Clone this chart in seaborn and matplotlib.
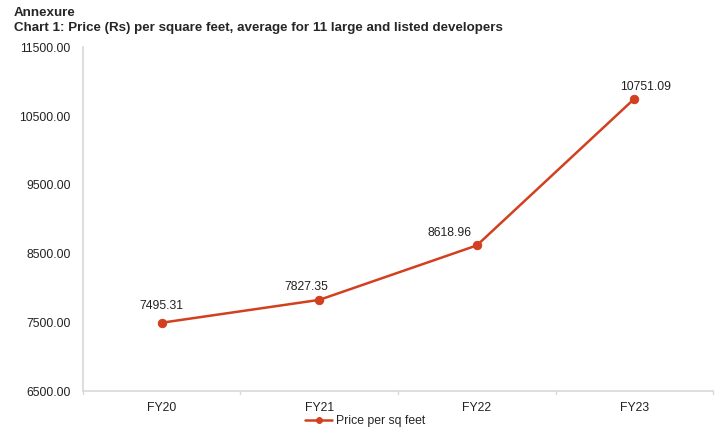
import matplotlib
matplotlib.use("Agg")
import matplotlib.pyplot as plt
import seaborn as sns
import pandas as pd
import numpy as np

categories = ["FY20", "FY21", "FY22", "FY23"]
prices = [7495.31, 7827.35, 8618.96, 10751.09]
yticks = [6500, 7500, 8500, 9500, 10500, 11500]
series_name = "Price per sq feet"

sns.set_theme(style="white")
plt.rcParams['font.family'] = ['Liberation Sans', 'DejaVu Sans']

color = "#d2401f"
df = pd.DataFrame({"pos": np.arange(len(categories)), "price": prices, "series": series_name})

fig = plt.figure(figsize=(7.27, 4.33), dpi=100)
ax = fig.add_axes([0.114, 0.0965, 0.867, 0.7945])
sns.lineplot(data=df, x="pos", y="price", hue="series", palette=[color], marker="o",
             markersize=6, markeredgecolor=color, linewidth=1.8, ax=ax)

ax.set_xlim(-0.5, len(categories) - 0.5)
ax.set_ylim(6500, 11500)
ax.set_yticks(yticks)
ax.set_yticklabels([f"{v:.2f}" for v in yticks], fontsize=8.8, color="#222222")
ax.set_xticks(range(len(categories)))
ax.set_xticklabels(categories, fontsize=8.8, color="#222222")
ax.tick_params(axis='x', length=0, pad=8)
ax.tick_params(axis='y', length=0, pad=9)
for b in np.arange(-0.5, len(categories) + 0.5, 1):
    ax.plot([b, b], [6500, 6500 - 40], color="#d9d9d9", lw=1, clip_on=False)
ax.set_xlabel("")
ax.set_ylabel("")
for s in ["top", "right"]:
    ax.spines[s].set_visible(False)
ax.spines["left"].set_color("#d9d9d9")
ax.spines["bottom"].set_color("#d9d9d9")

label_offsets = [(0, 12.2), (-9.4, 9.4), (-20, 8.6), (8, 8.2)]
for i, v in enumerate(prices):
    ax.annotate(f"{v:.2f}", (i, v), xytext=label_offsets[i], textcoords="offset points",
                ha="center", va="center", fontsize=8.8, color="#222222")

leg = ax.legend(loc="center", bbox_to_anchor=(0.448, -0.087), frameon=False,
                fontsize=8.8, handlelength=2.2, handletextpad=0.3, markerscale=0.7)

fig.text(0.019, 0.97, "Annexure", fontsize=9.6, fontweight="bold", va="center")
fig.text(0.019, 0.935, "Chart 1: Price (Rs) per square feet, average for 11 large and listed developers",
         fontsize=9.6, fontweight="bold", va="center")

fig.savefig("out.png", dpi=100)
